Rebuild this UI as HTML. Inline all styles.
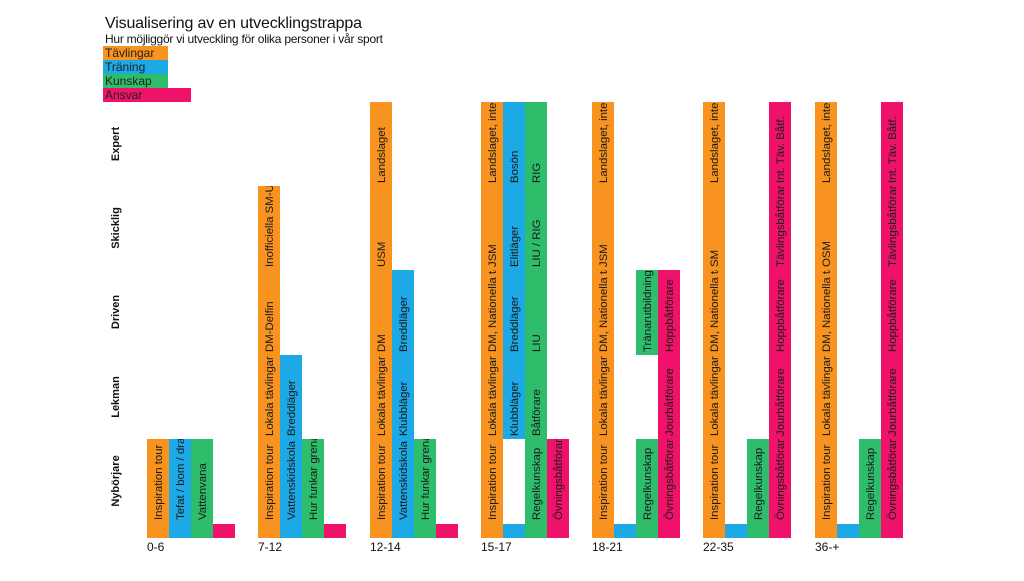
<!DOCTYPE html>
<html><head><meta charset="utf-8"><style>
body{margin:0;background:#fff}
svg{font-family:"Liberation Sans",sans-serif}
.t{font-size:11.4px;fill:#1a1a1a}
.y{font-size:11px;font-weight:bold;fill:#111}
</style></head><body>
<svg width="1024" height="576" viewBox="0 0 1024 576" xmlns="http://www.w3.org/2000/svg">
<rect width="1024" height="576" fill="#fff"/>
<text x="105" y="28" font-size="16" fill="#111" textLength="257">Visualisering av en utvecklingstrappa</text>
<text x="105" y="43" font-size="12" fill="#111" textLength="278">Hur möjliggör vi utveckling för olika personer i vår sport</text>
<rect x="103" y="46" width="65" height="14" fill="#F7931E"/><text x="105" y="57" font-size="12" fill="#222">Tävlingar</text>
<rect x="103" y="60" width="65" height="14" fill="#1CA9E6"/><text x="105" y="71" font-size="12" fill="#222">Träning</text>
<rect x="103" y="74" width="65" height="14" fill="#2EBD6B"/><text x="105" y="85" font-size="12" fill="#222">Kunskap</text>
<rect x="103" y="88" width="88" height="14" fill="#F0126A"/><text x="105" y="99" font-size="12" fill="#222">Ansvar</text>

<g class="y">
<text transform="translate(119,144) rotate(-90)" text-anchor="middle">Expert</text>
<text transform="translate(119,228) rotate(-90)" text-anchor="middle">Skicklig</text>
<text transform="translate(119,312) rotate(-90)" text-anchor="middle">Driven</text>
<text transform="translate(119,397) rotate(-90)" text-anchor="middle">Lekman</text>
<text transform="translate(119,481) rotate(-90)" text-anchor="middle">Nybörjare</text>
</g>

<g>
<rect x="147" y="439" width="22" height="99" fill="#F7931E"/>
<rect x="169" y="439" width="22" height="99" fill="#1CA9E6"/>
<rect x="191" y="439" width="22" height="99" fill="#2EBD6B"/>
<rect x="213" y="524" width="22" height="14" fill="#F0126A"/>

<rect x="258" y="186" width="22" height="352" fill="#F7931E"/>
<rect x="280" y="355" width="22" height="183" fill="#1CA9E6"/>
<rect x="302" y="439" width="22" height="99" fill="#2EBD6B"/>
<rect x="324" y="524" width="22" height="14" fill="#F0126A"/>

<rect x="370" y="102" width="22" height="436" fill="#F7931E"/>
<rect x="392" y="270" width="22" height="268" fill="#1CA9E6"/>
<rect x="414" y="439" width="22" height="99" fill="#2EBD6B"/>
<rect x="436" y="524" width="22" height="14" fill="#F0126A"/>

<rect x="481" y="102" width="22" height="436" fill="#F7931E"/>
<rect x="503" y="102" width="22" height="337" fill="#1CA9E6"/>
<rect x="503" y="524" width="22" height="14" fill="#1CA9E6"/>
<rect x="525" y="102" width="22" height="436" fill="#2EBD6B"/>
<rect x="547" y="439" width="22" height="99" fill="#F0126A"/>

<rect x="592" y="102" width="22" height="436" fill="#F7931E"/>
<rect x="614" y="524" width="22" height="14" fill="#1CA9E6"/>
<rect x="636" y="439" width="22" height="99" fill="#2EBD6B"/>
<rect x="636" y="270" width="22" height="85" fill="#2EBD6B"/>
<rect x="658" y="270" width="22" height="268" fill="#F0126A"/>

<rect x="703" y="102" width="22" height="436" fill="#F7931E"/>
<rect x="725" y="524" width="22" height="14" fill="#1CA9E6"/>
<rect x="747" y="439" width="22" height="99" fill="#2EBD6B"/>
<rect x="769" y="102" width="22" height="436" fill="#F0126A"/>

<rect x="815" y="102" width="22" height="436" fill="#F7931E"/>
<rect x="837" y="524" width="22" height="14" fill="#1CA9E6"/>
<rect x="859" y="439" width="22" height="99" fill="#2EBD6B"/>
<rect x="881" y="102" width="22" height="436" fill="#F0126A"/>
</g>

<g class="t">
<svg x="147" y="439" width="22" height="84"><text class="t" transform="translate(15,81) rotate(-90)">Inspiration tour</text></svg>
<svg x="169" y="439" width="22" height="84"><text class="t" transform="translate(15,81) rotate(-90)">Tefat / bom / dra</text></svg>
<svg x="191" y="439" width="22" height="84"><text class="t" transform="translate(15,81) rotate(-90)">Vattenvana</text></svg>

<svg x="258" y="439" width="22" height="84"><text class="t" transform="translate(15,81) rotate(-90)">Inspiration tour</text></svg>
<svg x="258" y="355" width="22" height="84"><text class="t" transform="translate(15,81) rotate(-90)">Lokala tävlingar</text></svg>
<svg x="258" y="270" width="22" height="85"><text class="t" transform="translate(15,82) rotate(-90)">DM-Delfin</text></svg>
<svg x="258" y="186" width="22" height="84"><text class="t" transform="translate(15,81) rotate(-90)">Inofficiella SM-U</text></svg>
<svg x="280" y="439" width="22" height="84"><text class="t" transform="translate(15,81) rotate(-90)">Vattenskidskola</text></svg>
<svg x="280" y="355" width="22" height="84"><text class="t" transform="translate(15,81) rotate(-90)">Breddläger</text></svg>
<svg x="302" y="439" width="22" height="84"><text class="t" transform="translate(15,81) rotate(-90)">Hur funkar grenar</text></svg>

<svg x="370" y="439" width="22" height="84"><text class="t" transform="translate(15,81) rotate(-90)">Inspiration tour</text></svg>
<svg x="370" y="355" width="22" height="84"><text class="t" transform="translate(15,81) rotate(-90)">Lokala tävlingar</text></svg>
<svg x="370" y="270" width="22" height="85"><text class="t" transform="translate(15,82) rotate(-90)">DM</text></svg>
<svg x="370" y="186" width="22" height="84"><text class="t" transform="translate(15,81) rotate(-90)">USM</text></svg>
<svg x="370" y="102" width="22" height="84"><text class="t" transform="translate(15,81) rotate(-90)">Landslaget</text></svg>
<svg x="392" y="439" width="22" height="84"><text class="t" transform="translate(15,81) rotate(-90)">Vattenskidskola</text></svg>
<svg x="392" y="355" width="22" height="84"><text class="t" transform="translate(15,81) rotate(-90)">Klubbläger</text></svg>
<svg x="392" y="270" width="22" height="85"><text class="t" transform="translate(15,82) rotate(-90)">Breddläger</text></svg>
<svg x="414" y="439" width="22" height="84"><text class="t" transform="translate(15,81) rotate(-90)">Hur funkar grenar</text></svg>

<svg x="481" y="439" width="22" height="84"><text class="t" transform="translate(15,81) rotate(-90)">Inspiration tour</text></svg>
<svg x="481" y="355" width="22" height="84"><text class="t" transform="translate(15,81) rotate(-90)">Lokala tävlingar</text></svg>
<svg x="481" y="270" width="22" height="85"><text class="t" transform="translate(15,82) rotate(-90)">DM, Nationella tävl</text></svg>
<svg x="481" y="186" width="22" height="84"><text class="t" transform="translate(15,81) rotate(-90)">JSM</text></svg>
<svg x="481" y="102" width="22" height="84"><text class="t" transform="translate(15,81) rotate(-90)">Landslaget, inter</text></svg>
<svg x="503" y="355" width="22" height="84"><text class="t" transform="translate(15,81) rotate(-90)">Klubbläger</text></svg>
<svg x="503" y="270" width="22" height="85"><text class="t" transform="translate(15,82) rotate(-90)">Breddläger</text></svg>
<svg x="503" y="186" width="22" height="84"><text class="t" transform="translate(15,81) rotate(-90)">Elitläger</text></svg>
<svg x="503" y="102" width="22" height="84"><text class="t" transform="translate(15,81) rotate(-90)">Bosön</text></svg>
<svg x="525" y="439" width="22" height="84"><text class="t" transform="translate(15,81) rotate(-90)">Regelkunskap</text></svg>
<svg x="525" y="355" width="22" height="84"><text class="t" transform="translate(15,81) rotate(-90)">Båtförare</text></svg>
<svg x="525" y="270" width="22" height="85"><text class="t" transform="translate(15,82) rotate(-90)">LIU</text></svg>
<svg x="525" y="186" width="22" height="84"><text class="t" transform="translate(15,81) rotate(-90)">LIU / RIG</text></svg>
<svg x="525" y="102" width="22" height="84"><text class="t" transform="translate(15,81) rotate(-90)">RIG</text></svg>
<svg x="547" y="439" width="22" height="84"><text class="t" transform="translate(15,81) rotate(-90)">Övningsbåtförare</text></svg>

<svg x="592" y="439" width="22" height="84"><text class="t" transform="translate(15,81) rotate(-90)">Inspiration tour</text></svg>
<svg x="592" y="355" width="22" height="84"><text class="t" transform="translate(15,81) rotate(-90)">Lokala tävlingar</text></svg>
<svg x="592" y="270" width="22" height="85"><text class="t" transform="translate(15,82) rotate(-90)">DM, Nationella tävl</text></svg>
<svg x="592" y="186" width="22" height="84"><text class="t" transform="translate(15,81) rotate(-90)">JSM</text></svg>
<svg x="592" y="102" width="22" height="84"><text class="t" transform="translate(15,81) rotate(-90)">Landslaget, inter</text></svg>
<svg x="636" y="439" width="22" height="84"><text class="t" transform="translate(15,81) rotate(-90)">Regelkunskap</text></svg>
<svg x="636" y="270" width="22" height="85"><text class="t" transform="translate(15,82) rotate(-90)">Tränarutbildning</text></svg>
<svg x="658" y="439" width="22" height="84"><text class="t" transform="translate(15,81) rotate(-90)">Övningsbåtförare</text></svg>
<svg x="658" y="355" width="22" height="84"><text class="t" transform="translate(15,81) rotate(-90)">Jourbåtförare</text></svg>
<svg x="658" y="270" width="22" height="85"><text class="t" transform="translate(15,82) rotate(-90)">Hoppbåtförare</text></svg>

<svg x="703" y="439" width="22" height="84"><text class="t" transform="translate(15,81) rotate(-90)">Inspiration tour</text></svg>
<svg x="703" y="355" width="22" height="84"><text class="t" transform="translate(15,81) rotate(-90)">Lokala tävlingar</text></svg>
<svg x="703" y="270" width="22" height="85"><text class="t" transform="translate(15,82) rotate(-90)">DM, Nationella tävl</text></svg>
<svg x="703" y="186" width="22" height="84"><text class="t" transform="translate(15,81) rotate(-90)">SM</text></svg>
<svg x="703" y="102" width="22" height="84"><text class="t" transform="translate(15,81) rotate(-90)">Landslaget, inter</text></svg>
<svg x="747" y="439" width="22" height="84"><text class="t" transform="translate(15,81) rotate(-90)">Regelkunskap</text></svg>
<svg x="769" y="439" width="22" height="84"><text class="t" transform="translate(15,81) rotate(-90)">Övningsbåtförare</text></svg>
<svg x="769" y="355" width="22" height="84"><text class="t" transform="translate(15,81) rotate(-90)">Jourbåtförare</text></svg>
<svg x="769" y="270" width="22" height="85"><text class="t" transform="translate(15,82) rotate(-90)">Hoppbåtförare</text></svg>
<svg x="769" y="186" width="22" height="84"><text class="t" transform="translate(15,81) rotate(-90)">Tävlingsbåtförare</text></svg>
<svg x="769" y="102" width="22" height="84"><text class="t" transform="translate(15,81) rotate(-90)">Int. Täv. Båtf.</text></svg>

<svg x="815" y="439" width="22" height="84"><text class="t" transform="translate(15,81) rotate(-90)">Inspiration tour</text></svg>
<svg x="815" y="355" width="22" height="84"><text class="t" transform="translate(15,81) rotate(-90)">Lokala tävlingar</text></svg>
<svg x="815" y="270" width="22" height="85"><text class="t" transform="translate(15,82) rotate(-90)">DM, Nationella tävl</text></svg>
<svg x="815" y="186" width="22" height="84"><text class="t" transform="translate(15,81) rotate(-90)">OSM</text></svg>
<svg x="815" y="102" width="22" height="84"><text class="t" transform="translate(15,81) rotate(-90)">Landslaget, inter</text></svg>
<svg x="859" y="439" width="22" height="84"><text class="t" transform="translate(15,81) rotate(-90)">Regelkunskap</text></svg>
<svg x="881" y="439" width="22" height="84"><text class="t" transform="translate(15,81) rotate(-90)">Övningsbåtförare</text></svg>
<svg x="881" y="355" width="22" height="84"><text class="t" transform="translate(15,81) rotate(-90)">Jourbåtförare</text></svg>
<svg x="881" y="270" width="22" height="85"><text class="t" transform="translate(15,82) rotate(-90)">Hoppbåtförare</text></svg>
<svg x="881" y="186" width="22" height="84"><text class="t" transform="translate(15,81) rotate(-90)">Tävlingsbåtförare</text></svg>
<svg x="881" y="102" width="22" height="84"><text class="t" transform="translate(15,81) rotate(-90)">Int. Täv. Båtf.</text></svg>
</g>

<g font-size="12" fill="#111">
<text x="147" y="551">0-6</text>
<text x="258" y="551">7-12</text>
<text x="370" y="551">12-14</text>
<text x="481" y="551">15-17</text>
<text x="592" y="551">18-21</text>
<text x="703" y="551">22-35</text>
<text x="815" y="551">36-+</text>
</g>
</svg>
</body></html>
